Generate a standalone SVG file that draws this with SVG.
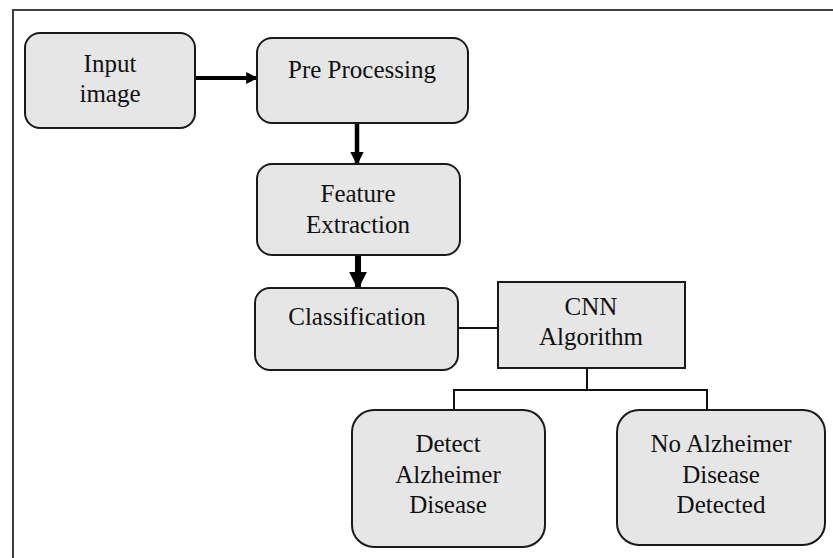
<svg xmlns="http://www.w3.org/2000/svg" width="833" height="558" viewBox="0 0 833 558">
  <style>
    .box { fill: #e6e6e6; stroke: #1a1a1a; stroke-width: 2; }
    .lbl { font-family: "Liberation Serif", "Times New Roman", serif; font-size: 25px; fill: #111; text-anchor: middle; }
    .thin { fill: none; stroke: #111; stroke-width: 2; }
    .flow { fill: none; stroke: #000; }
  </style>
  <defs>
    <marker id="head" viewBox="0 0 10 10" refX="9" refY="5" markerWidth="3" markerHeight="3" orient="auto" markerUnits="strokeWidth">
      <path d="M0,0 L10,5 L0,10 z" fill="#000"/>
    </marker>
  </defs>

  <rect width="833" height="558" fill="#ffffff"/>
  <!-- outer frame -->
  <rect x="13" y="10" width="830" height="560" fill="none" stroke="#404040" stroke-width="2"/>

  <g id="connectors">
    <line class="flow" x1="195" y1="78" x2="257" y2="78" stroke-width="4" marker-end="url(#head)"/>
    <line class="flow" x1="357" y1="123" x2="357" y2="164" stroke-width="4.5" marker-end="url(#head)"/>
    <line class="flow" x1="358" y1="255" x2="358" y2="288" stroke-width="6" marker-end="url(#head)"/>
    <line class="thin" x1="458" y1="328" x2="498" y2="328"/>
    <polyline class="thin" points="587,368 587,390"/>
    <polyline class="thin" points="454,410 454,390 707,390 707,410"/>
  </g>

  <g id="input-image">
    <rect class="box" x="25" y="33" width="170" height="95" rx="15"/>
    <text class="lbl" x="110" y="72">Input</text>
    <text class="lbl" x="110" y="102">image</text>
  </g>

  <g id="pre-processing">
    <rect class="box" x="257" y="38" width="211" height="85" rx="15"/>
    <text class="lbl" x="362" y="78">Pre Processing</text>
  </g>

  <g id="feature-extraction">
    <rect class="box" x="257" y="164" width="203" height="91" rx="15"/>
    <text class="lbl" x="358" y="202">Feature</text>
    <text class="lbl" x="358" y="233">Extraction</text>
  </g>

  <g id="classification">
    <rect class="box" x="255" y="288" width="203" height="82" rx="15"/>
    <text class="lbl" x="357" y="325">Classification</text>
  </g>

  <g id="cnn-algorithm">
    <rect class="box" x="498" y="282" width="187" height="86"/>
    <text class="lbl" x="591" y="315">CNN</text>
    <text class="lbl" x="591" y="345">Algorithm</text>
  </g>

  <g id="detect-alzheimer">
    <rect class="box" x="352" y="410" width="193" height="137" rx="22"/>
    <text class="lbl" x="448" y="452">Detect</text>
    <text class="lbl" x="448" y="483">Alzheimer</text>
    <text class="lbl" x="448" y="513">Disease</text>
  </g>

  <g id="no-alzheimer">
    <rect class="box" x="617" y="410" width="208" height="135" rx="22"/>
    <text class="lbl" x="721" y="452">No Alzheimer</text>
    <text class="lbl" x="721" y="483">Disease</text>
    <text class="lbl" x="721" y="513">Detected</text>
  </g>
</svg>
